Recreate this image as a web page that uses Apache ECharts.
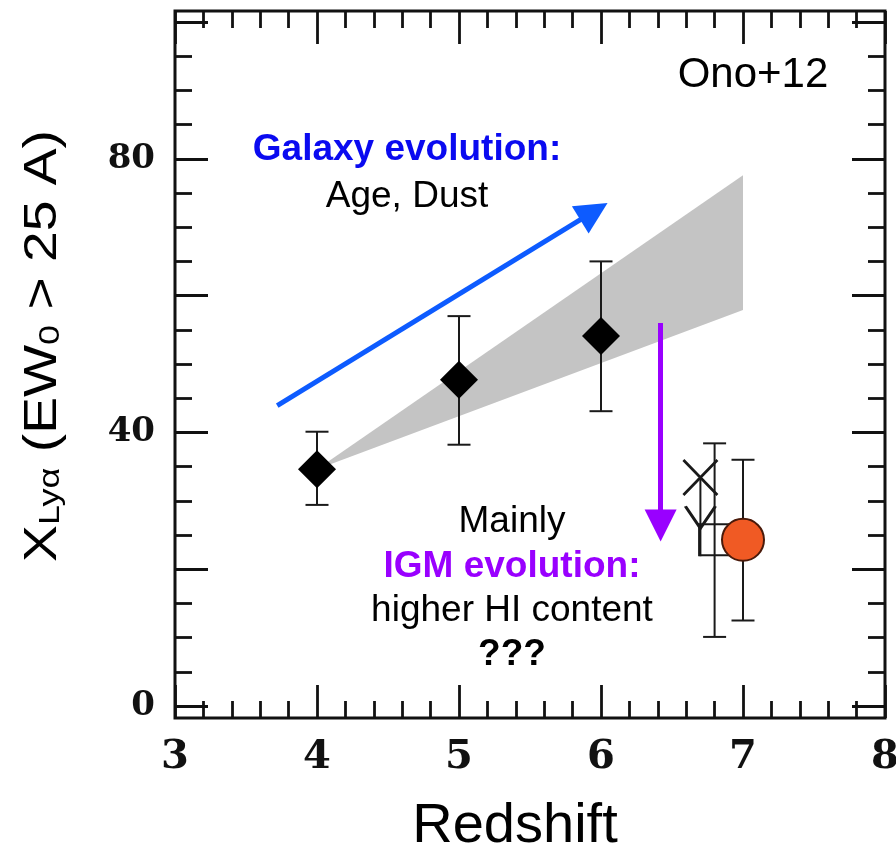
<!DOCTYPE html>
<html>
<head>
<meta charset="utf-8">
<script src="https://cdn.jsdelivr.net/npm/echarts@6/dist/echarts.min.js"></script>
<style>
  html, body { margin: 0; padding: 0; background: #fff; }
  #chart { width: 896px; height: 849px; }
</style>
</head>
<body>
<div id="chart"></div>
<script>
// data
var diamondZ = [4, 5, 6];
var diamondX = [34.6, 47.7, 54.1];
var diamondLo = [29.4, 38.2, 43.1];
var diamondHi = [40.1, 57.0, 65.0];

var squarePt = [6.8, 24.3];
var squareErr = [10.1, 38.4];
var circlePt = [7.0, 24.3];
var circleErr = [12.5, 36.0];
var crossPt = [6.7, 33.4];
var crossDrop = 21.9;
var vPt = [6.7, 27.6];

var bandZ = [4, 7];
var bandLower = [34.6, 57.9];
var bandUpper = [34.6, 77.6];

var galaxyArrow = [[3.72, 43.9], [5.95, 72.3]];
var igmArrow = [[6.42, 56.0], [6.42, 26.4]];

var yLabels = [0, 40, 80];

var SANS = '"Liberation Sans", Arial, sans-serif';
var SERIF = '"DejaVu Serif", serif';

var chart = echarts.init(document.getElementById('chart'));

// error bars: [x, lo, hi, caps]
var errData = [];
for (var i = 0; i < diamondZ.length; i++) errData.push([diamondZ[i], diamondLo[i], diamondHi[i], 1]);
errData.push([squarePt[0], squareErr[0], squareErr[1], 1]);
errData.push([circlePt[0], circleErr[0], circleErr[1], 1]);
errData.push([crossPt[0], crossDrop, crossPt[1], 0]);

var tickStyle = { color: '#111', width: 2.8 };

function xAx(pos, off, labels) {
  return {
    type: 'value', gridIndex: 0, position: pos, offset: off,
    min: 3, max: 8, interval: 1,
    axisLine: { show: false, onZero: false },
    axisTick: { show: true, inside: true, length: 33, lineStyle: tickStyle },
    minorTick: { show: true, splitNumber: 5, length: 17, lineStyle: tickStyle },
    splitLine: { show: false },
    axisLabel: labels ? {
      show: true, margin: 20, color: '#111',
      fontFamily: SERIF, fontWeight: 'bold', fontSize: 40
    } : { show: false },
    name: labels ? 'Redshift' : '',
    nameLocation: 'middle', nameGap: 81,
    nameTextStyle: { fontFamily: SANS, fontSize: 56, color: '#000', padding: [0, 30, 0, 0] }
  };
}

function yAx(pos, labels) {
  return {
    type: 'value', gridIndex: 0, position: pos,
    min: 0, max: 100, interval: 20,
    axisLine: { show: false, onZero: false },
    axisTick: { show: true, inside: true, length: 33, lineStyle: tickStyle },
    minorTick: { show: true, splitNumber: 4, length: 17, lineStyle: tickStyle },
    splitLine: { show: false },
    axisLabel: labels ? {
      show: true, margin: 20, color: '#111',
      fontFamily: SERIF, fontWeight: 'bold', fontSize: 34,
      formatter: function (v) { return yLabels.indexOf(v) >= 0 ? String(v) : ''; }
    } : { show: false }
  };
}

function txt(x, y, s, font, fill) {
  return { type: 'text', x: x, y: y,
    style: { text: s, font: font, fill: fill, align: 'center', verticalAlign: 'middle' } };
}

var option = {
  animation: false,
  backgroundColor: '#fff',
  grid: [
    { left: 175, right: 11, top: 22, bottom: 143, outerBoundsMode: 'none', containLabel: false },
    { left: 175, right: 11, top: 11, bottom: 131, outerBoundsMode: 'none', show: true,
      borderColor: '#111', borderWidth: 3, backgroundColor: 'transparent' }
  ],
  xAxis: [
    xAx('bottom', 12, true),
    xAx('top', 11, false),
    { type: 'value', gridIndex: 1, show: false, min: 0, max: 1 }
  ],
  yAxis: [
    yAx('left', true),
    yAx('right', false),
    { type: 'value', gridIndex: 1, show: false, min: 0, max: 1 }
  ],
  graphic: [
    {
      // y axis title, stretched along its reading direction like the source figure
      type: 'text', x: 43, y: 346, rotation: Math.PI / 2, scaleX: 1.2,
      style: {
        text: '{m|X}{s|Lyα}{m| (EW}{s|0}{m| > 25 A)}',
        align: 'center', verticalAlign: 'middle',
        rich: {
          m: { fontFamily: SANS, fontSize: 46, fill: '#000' },
          s: { fontFamily: SANS, fontSize: 30, fill: '#000', verticalAlign: 'bottom' }
        }
      }
    },
    txt(753, 75, 'Ono+12', '42px ' + SANS, '#000'),
    txt(407, 150, 'Galaxy evolution:', 'bold 37px ' + SANS, '#0a0af0'),
    txt(407, 197, 'Age, Dust', '37px ' + SANS, '#000'),
    txt(512, 522, 'Mainly', '37px ' + SANS, '#000'),
    txt(512, 567, 'IGM evolution:', 'bold 37px ' + SANS, '#9900ff'),
    txt(512, 611, 'higher HI content', '37px ' + SANS, '#000'),
    txt(512, 655, '???', 'bold 37px ' + SANS, '#000')
  ],
  series: [
    {
      // grey model band
      type: 'custom', xAxisIndex: 0, yAxisIndex: 0, z: 1,
      data: [0],
      renderItem: function (params, api) {
        var pts = [];
        for (var k = 0; k < bandZ.length; k++) pts.push(api.coord([bandZ[k], bandUpper[k]]));
        for (var k = bandZ.length - 1; k >= 0; k--) pts.push(api.coord([bandZ[k], bandLower[k]]));
        return { type: 'polygon', shape: { points: pts }, style: { fill: '#c4c4c4' } };
      }
    },
    {
      type: 'lines', coordinateSystem: 'cartesian2d', xAxisIndex: 0, yAxisIndex: 0, z: 2,
      symbol: ['none', 'triangle'], symbolSize: 32,
      lineStyle: { color: '#0d5bff', width: 5, opacity: 1 },
      data: [{ coords: galaxyArrow }]
    },
    {
      type: 'lines', coordinateSystem: 'cartesian2d', xAxisIndex: 0, yAxisIndex: 0, z: 2,
      symbol: ['none', 'triangle'], symbolSize: 32,
      lineStyle: { color: '#9900ff', width: 5, opacity: 1 },
      data: [{ coords: igmArrow }]
    },
    {
      type: 'custom', xAxisIndex: 0, yAxisIndex: 0, z: 3,
      data: errData,
      renderItem: function (params, api) {
        var x = api.value(0);
        var lo = api.coord([x, api.value(1)]);
        var hi = api.coord([x, api.value(2)]);
        var w = 11.5;
        var st = { stroke: '#1a1a1a', lineWidth: 2 };
        var kids = [{ type: 'line', shape: { x1: lo[0], y1: lo[1], x2: hi[0], y2: hi[1] }, style: st }];
        if (api.value(3)) {
          kids.push({ type: 'line', shape: { x1: lo[0] - w, y1: lo[1], x2: lo[0] + w, y2: lo[1] }, style: st });
          kids.push({ type: 'line', shape: { x1: hi[0] - w, y1: hi[1], x2: hi[0] + w, y2: hi[1] }, style: st });
        }
        return { type: 'group', children: kids };
      }
    },
    {
      type: 'scatter', xAxisIndex: 0, yAxisIndex: 0, z: 4,
      symbol: 'diamond', symbolSize: 38,
      itemStyle: { color: '#000', opacity: 1 },
      data: diamondZ.map(function (z, i) { return [z, diamondX[i]]; })
    },
    {
      type: 'scatter', xAxisIndex: 0, yAxisIndex: 0, z: 4,
      symbol: 'path://M0,0L10,10M10,0L0,10', symbolSize: [34, 35],
      itemStyle: { color: 'none', borderColor: '#1a1a1a', borderWidth: 2.8, opacity: 1 },
      data: [crossPt]
    },
    {
      type: 'scatter', xAxisIndex: 0, yAxisIndex: 0, z: 4,
      symbol: 'path://M0,0L10,14L20,0', symbolSize: [30, 22],
      itemStyle: { color: 'none', borderColor: '#1a1a1a', borderWidth: 2.8, opacity: 1 },
      data: [vPt]
    },
    {
      type: 'scatter', xAxisIndex: 0, yAxisIndex: 0, z: 4,
      symbol: 'rect', symbolSize: 31,
      itemStyle: { color: 'none', borderColor: '#1a1a1a', borderWidth: 2, opacity: 1 },
      data: [squarePt]
    },
    {
      type: 'scatter', xAxisIndex: 0, yAxisIndex: 0, z: 5,
      symbol: 'circle', symbolSize: 42,
      itemStyle: { color: '#f05a24', borderColor: '#4a1a0a', borderWidth: 2, opacity: 1 },
      data: [circlePt]
    }
  ]
};

chart.setOption(option);
</script>
</body>
</html>
